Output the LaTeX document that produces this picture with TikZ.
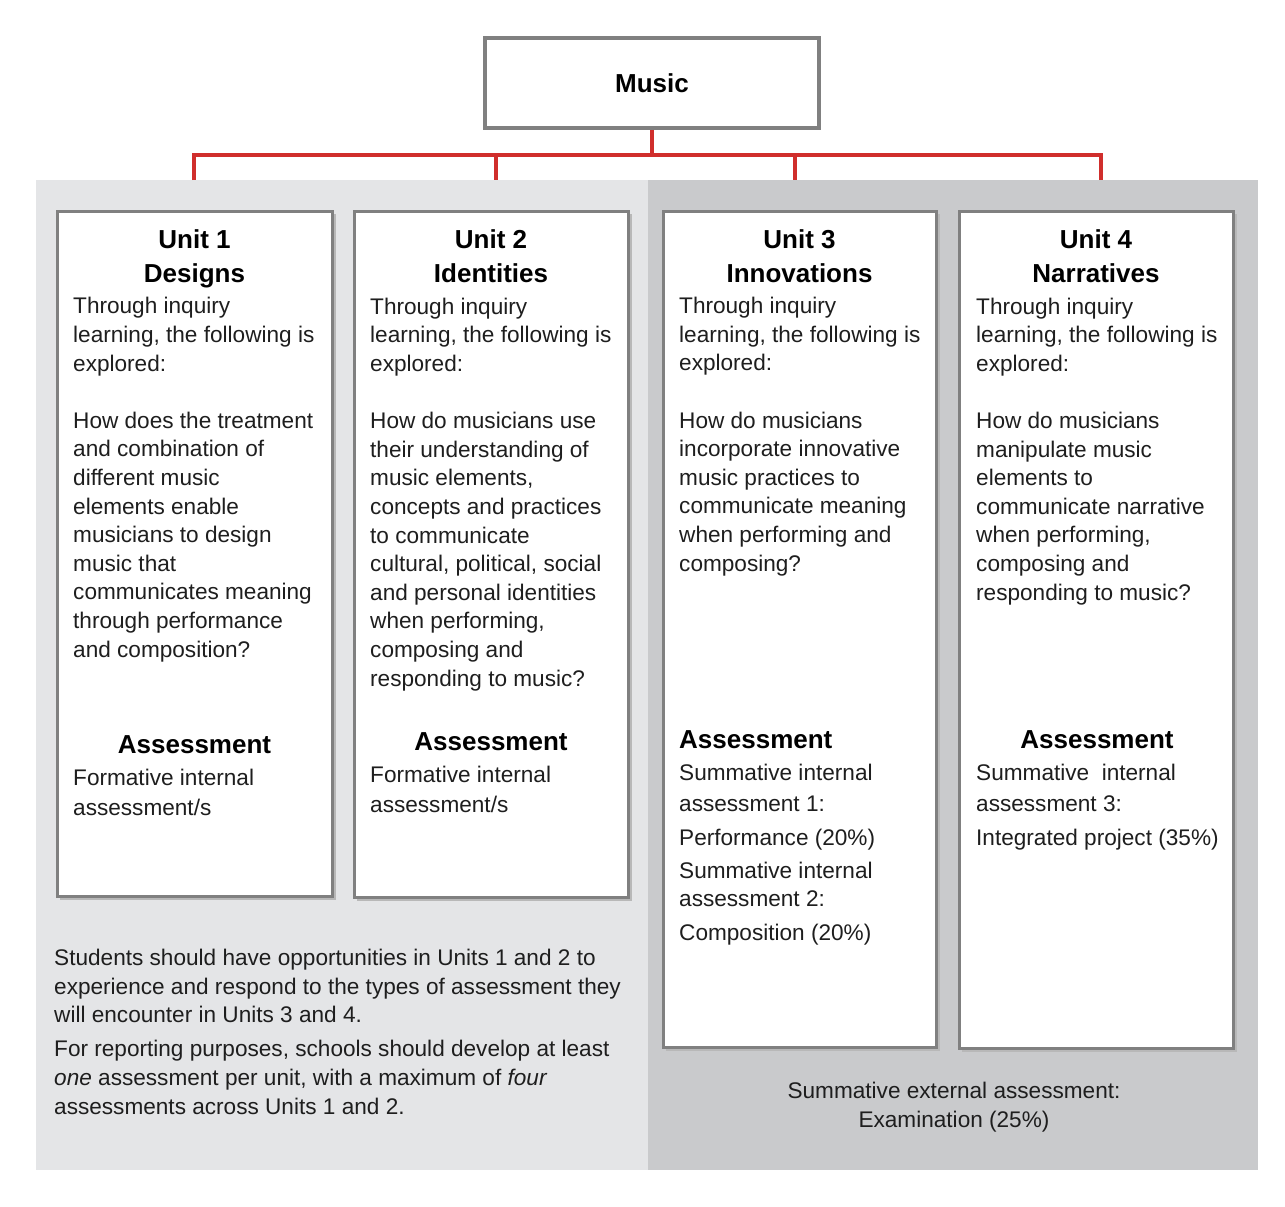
\documentclass[tikz,border=0pt]{standalone}
\usepackage{fontspec}
\setmainfont{Liberation Sans}
\definecolor{redl}{RGB}{208,46,44}
\definecolor{panelL}{RGB}{228,229,231}
\definecolor{panelR}{RGB}{201,202,204}
\definecolor{boxline}{RGB}{128,128,128}
\definecolor{txt}{RGB}{30,30,30}
\begin{document}
\begin{tikzpicture}[x=1pt,y=-1pt,
  body/.style={font=\fontsize{22.6}{28.6}\selectfont, text=txt, align=left, anchor=base west, inner sep=0pt},
  head/.style={font=\bfseries\fontsize{26}{34}\selectfont, text=black, align=center, anchor=base, inner sep=0pt},
  unitbox/.style={draw=boxline, line width=3pt, fill=white, inner sep=0pt, outer sep=0pt, anchor=north west},
  boxshadow/.style={draw=black!28, line width=2pt},
  redline/.style={draw=redl, line width=4pt, line join=miter}]
\useasboundingbox (0,0) rectangle (1285,1207);
\fill[panelL] (36,180) rectangle (648,1170);
\fill[panelR] (648,180) rectangle (1258,1170);

\node[draw=boxline, line width=3.5pt, fill=white, minimum width=334pt, minimum height=90pt, inner sep=0pt,
      font=\bfseries\fontsize{26}{30}\selectfont, text=black] (music) at (652,83) {Music};

\coordinate (bar) at (650,155);
\coordinate (d1) at (194,180);
\coordinate (d2) at (496,180);
\coordinate (d3) at (795,180);
\coordinate (d4) at (1101,180);
\draw[redline] (music.south) -- (music.south |- bar);
\draw[redline] (d1) -- (d1 |- bar) -- (d4 |- bar) -- (d4);
\draw[redline] (d2 |- bar) -- (d2);
\draw[redline] (d3 |- bar) -- (d3);

\node[unitbox, minimum width=275pt, minimum height=685pt] (u1) at (57,211) {};
\node[unitbox, minimum width=274pt, minimum height=686pt] (u2) at (354,211) {};
\node[unitbox, minimum width=273pt, minimum height=836pt] (u3) at (663,211) {};
\node[unitbox, minimum width=274pt, minimum height=837pt] (u4) at (959,211) {};
\foreach \u in {u1,u2,u3,u4}{
  \draw[boxshadow] ([xshift=2.5pt,yshift=-3pt]\u.north east) -- ([xshift=2.5pt,yshift=-2.5pt]\u.south east) -- ([xshift=3pt,yshift=-2.5pt]\u.south west);
}

% Unit 1 (multi-line nodes are anchored at the baseline of their last line)
\node[head] (h1) at (194.5,282) {Unit 1\\Designs};
\node[body] (b1) at (73,657) {Through inquiry\\learning, the following is\\explored:\\[28.6pt]How does the treatment\\and combination of\\different music\\elements enable\\musicians to design\\music that\\communicates meaning\\through performance\\and composition?};
\node[head] (a1) at (194.5,753) {Assessment};
\node[body] (f1) at (73,815) {Formative internal\\[1.4pt]assessment/s};

% Unit 2
\node[head] (h2) at (491,282) {Unit 2\\Identities};
\node[body] (b2) at (370,686) {Through inquiry\\learning, the following is\\explored:\\[28.6pt]How do musicians use\\their understanding of\\music elements,\\concepts and practices\\to communicate\\cultural, political, social\\and personal identities\\when performing,\\composing and\\responding to music?};
\node[head] (a2) at (491,750) {Assessment};
\node[body] (f2) at (370,812) {Formative internal\\[1.4pt]assessment/s};

% Unit 3
\node[head] (h3) at (799.5,282) {Unit 3\\Innovations};
\node[body] (b3) at (679,571) {Through inquiry\\learning, the following is\\explored:\\[28.6pt]How do musicians\\incorporate innovative\\music practices to\\communicate meaning\\when performing and\\composing?};
\node[head, anchor=base west] (a3) at (679,748) {Assessment};
\node[body] (f3) at (679,940) {Summative internal\\[2.4pt]assessment 1:\\[5.4pt]Performance (20\%)\\[4.4pt]Summative internal\\[-0.6pt]assessment 2:\\[5.4pt]Composition (20\%)};

% Unit 4
\node[head] (h4) at (1096,282) {Unit 4\\Narratives};
\node[body] (b4) at (976,600) {Through inquiry\\learning, the following is\\explored:\\[28.6pt]How do musicians\\manipulate music\\elements to\\communicate narrative\\when performing,\\composing and\\responding to music?};
\node[head] (a4) at (1097,748) {Assessment};
\node[body] (f4) at (976,845) {Summative~ internal\\[2.4pt]assessment 3:\\[5.4pt]Integrated project (35\%)};

% notes
\node[body] (note) at (54,1114) {Students should have opportunities in Units 1 and 2 to\\experience and respond to the types of assessment they\\will encounter in Units 3 and 4.\\[5.4pt]For reporting purposes, schools should develop at least\\\textit{one} assessment per unit, with a maximum of \textit{four}\\assessments across Units 1 and 2.};
\node[body, align=center, anchor=base] (ext) at (954,1127) {Summative external assessment:\\Examination (25\%)};
\end{tikzpicture}
\end{document}
